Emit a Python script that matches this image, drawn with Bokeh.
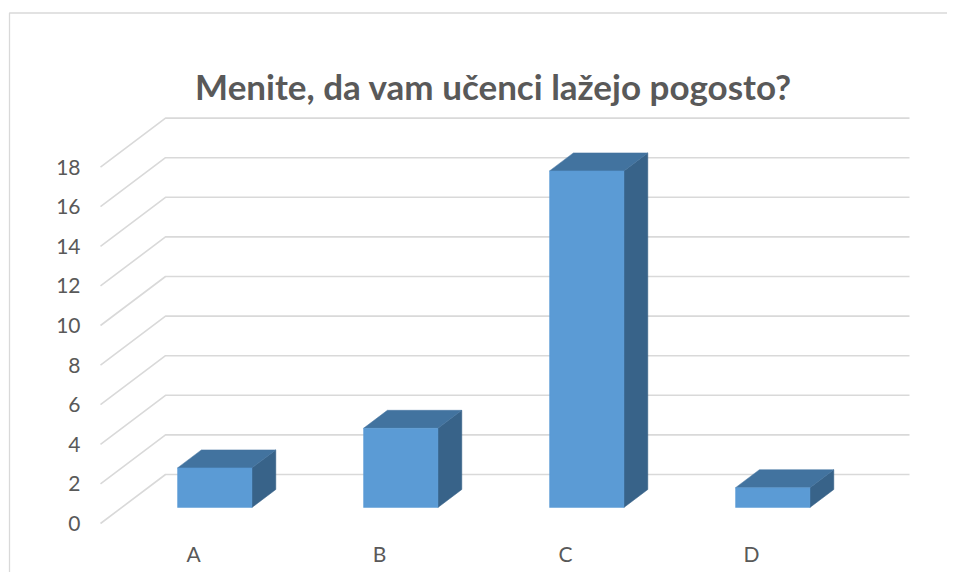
from bokeh.plotting import figure
from bokeh.models import Range1d
from bokeh.core.properties import value
from bokeh.embed import file_html
from bokeh.resources import INLINE

# ---- data ----
title_text = "Menite, da vam učenci lažejo pogosto?"
categories = ["A", "B", "C", "D"]
counts = [2, 4, 17, 1]
tick_values = [0, 2, 4, 6, 8, 10, 12, 14, 16, 18]
tick_labels = ["0", "2", "4", "6", "8", "10", "12", "14", "16", "18"]

# ---- layout (pixels in the picture) ----
W, H = 947, 572
ORIGIN = 0              # screen position of the canvas' top-left corner
FLOOR_LEFT = 100.0      # x of front-left floor corner
FLOOR_FRONT = 523.0     # y of value 0 on the front plane
CAT_PX = 186.0          # pixels per category
PPU = 19.8              # pixels per value unit
DEPTH_PX_X, DEPTH_PX_Y = 65.0, 49.0
DU = DEPTH_PX_X / CAT_PX
DV = DEPTH_PX_Y / PPU
BAR_D0, BAR_D1 = 0.327, 0.694
BAR_HALF = 0.2

def u_of(px):
    return (px - FLOOR_LEFT) / CAT_PX

def v_of(py):
    return (FLOOR_FRONT - py) / PPU

p = figure(width=W, height=H, output_backend="svg", toolbar_location=None,
           x_axis_location=None, y_axis_location=None,
           x_range=Range1d(u_of(ORIGIN), u_of(ORIGIN + W)),
           y_range=Range1d(v_of(ORIGIN + H), v_of(ORIGIN)),
           min_border=0, tools="")
p.outline_line_color = None
p.grid.visible = False
p.background_fill_color = "white"
p.border_fill_color = "white"

GRID = "#D9D9D9"
TXT = "#595959"

# chart border (left and top visible)
p.line([u_of(9), u_of(9), u_of(ORIGIN + W + 20)],
       [v_of(ORIGIN + H + 20), v_of(12.5), v_of(12.5)],
       line_color=GRID, line_width=1.3)

# gridlines: diagonal on side wall + horizontal on back wall
n = len(categories)
gx, gy = [], []
for t in tick_values:
    gx.append([0.0, DU, n + DU])
    gy.append([t, t + DV, t + DV])
p.multi_line(gx, gy, line_color=GRID, line_width=1.6)

# bars
fx, fy, tx, ty, sx, sy = [], [], [], [], [], []
ddu = (BAR_D1 - BAR_D0) * DU
ddv = (BAR_D1 - BAR_D0) * DV
for i, c in enumerate(counts):
    xl = i + 0.5 - BAR_HALF + BAR_D0 * DU
    xr = i + 0.5 + BAR_HALF + BAR_D0 * DU
    b = BAR_D0 * DV
    top = c + b
    fx.append([xl, xr, xr, xl]); fy.append([b, b, top, top])
    tx.append([xl, xr, xr + ddu, xl + ddu]); ty.append([top, top, top + ddv, top + ddv])
    sx.append([xr, xr + ddu, xr + ddu, xr]); sy.append([b, b + ddv, top + ddv, top])
p.patches(sx, sy, fill_color="#386389", line_color="#386389", line_width=0.5)
p.patches(tx, ty, fill_color="#42739F", line_color="#42739F", line_width=0.5)
p.patches(fx, fy, fill_color="#5B9BD5", line_color="#5B9BD5", line_width=0.5)

# y tick labels
p.text(x=[u_of(80)] * len(tick_values), y=tick_values, text=tick_labels,
       text_align="right", text_baseline="middle", text_color=TXT,
       text_font=value("Lato"), text_font_size="21px")

# category labels
p.text(x=[i + 0.5 for i in range(n)], y=[v_of(553)] * n, text=categories,
       text_align="center", text_baseline="middle", text_color=TXT,
       text_font=value("Lato"), text_font_size="21px")

# title
p.text(x=[u_of(493)], y=[v_of(85)], text=[title_text],
       text_align="center", text_baseline="alphabetic", text_color=TXT,
       text_font=value("Lato"), text_font_style="bold", text_font_size="35px")

open("out.html", "w").write(file_html(p, INLINE))
